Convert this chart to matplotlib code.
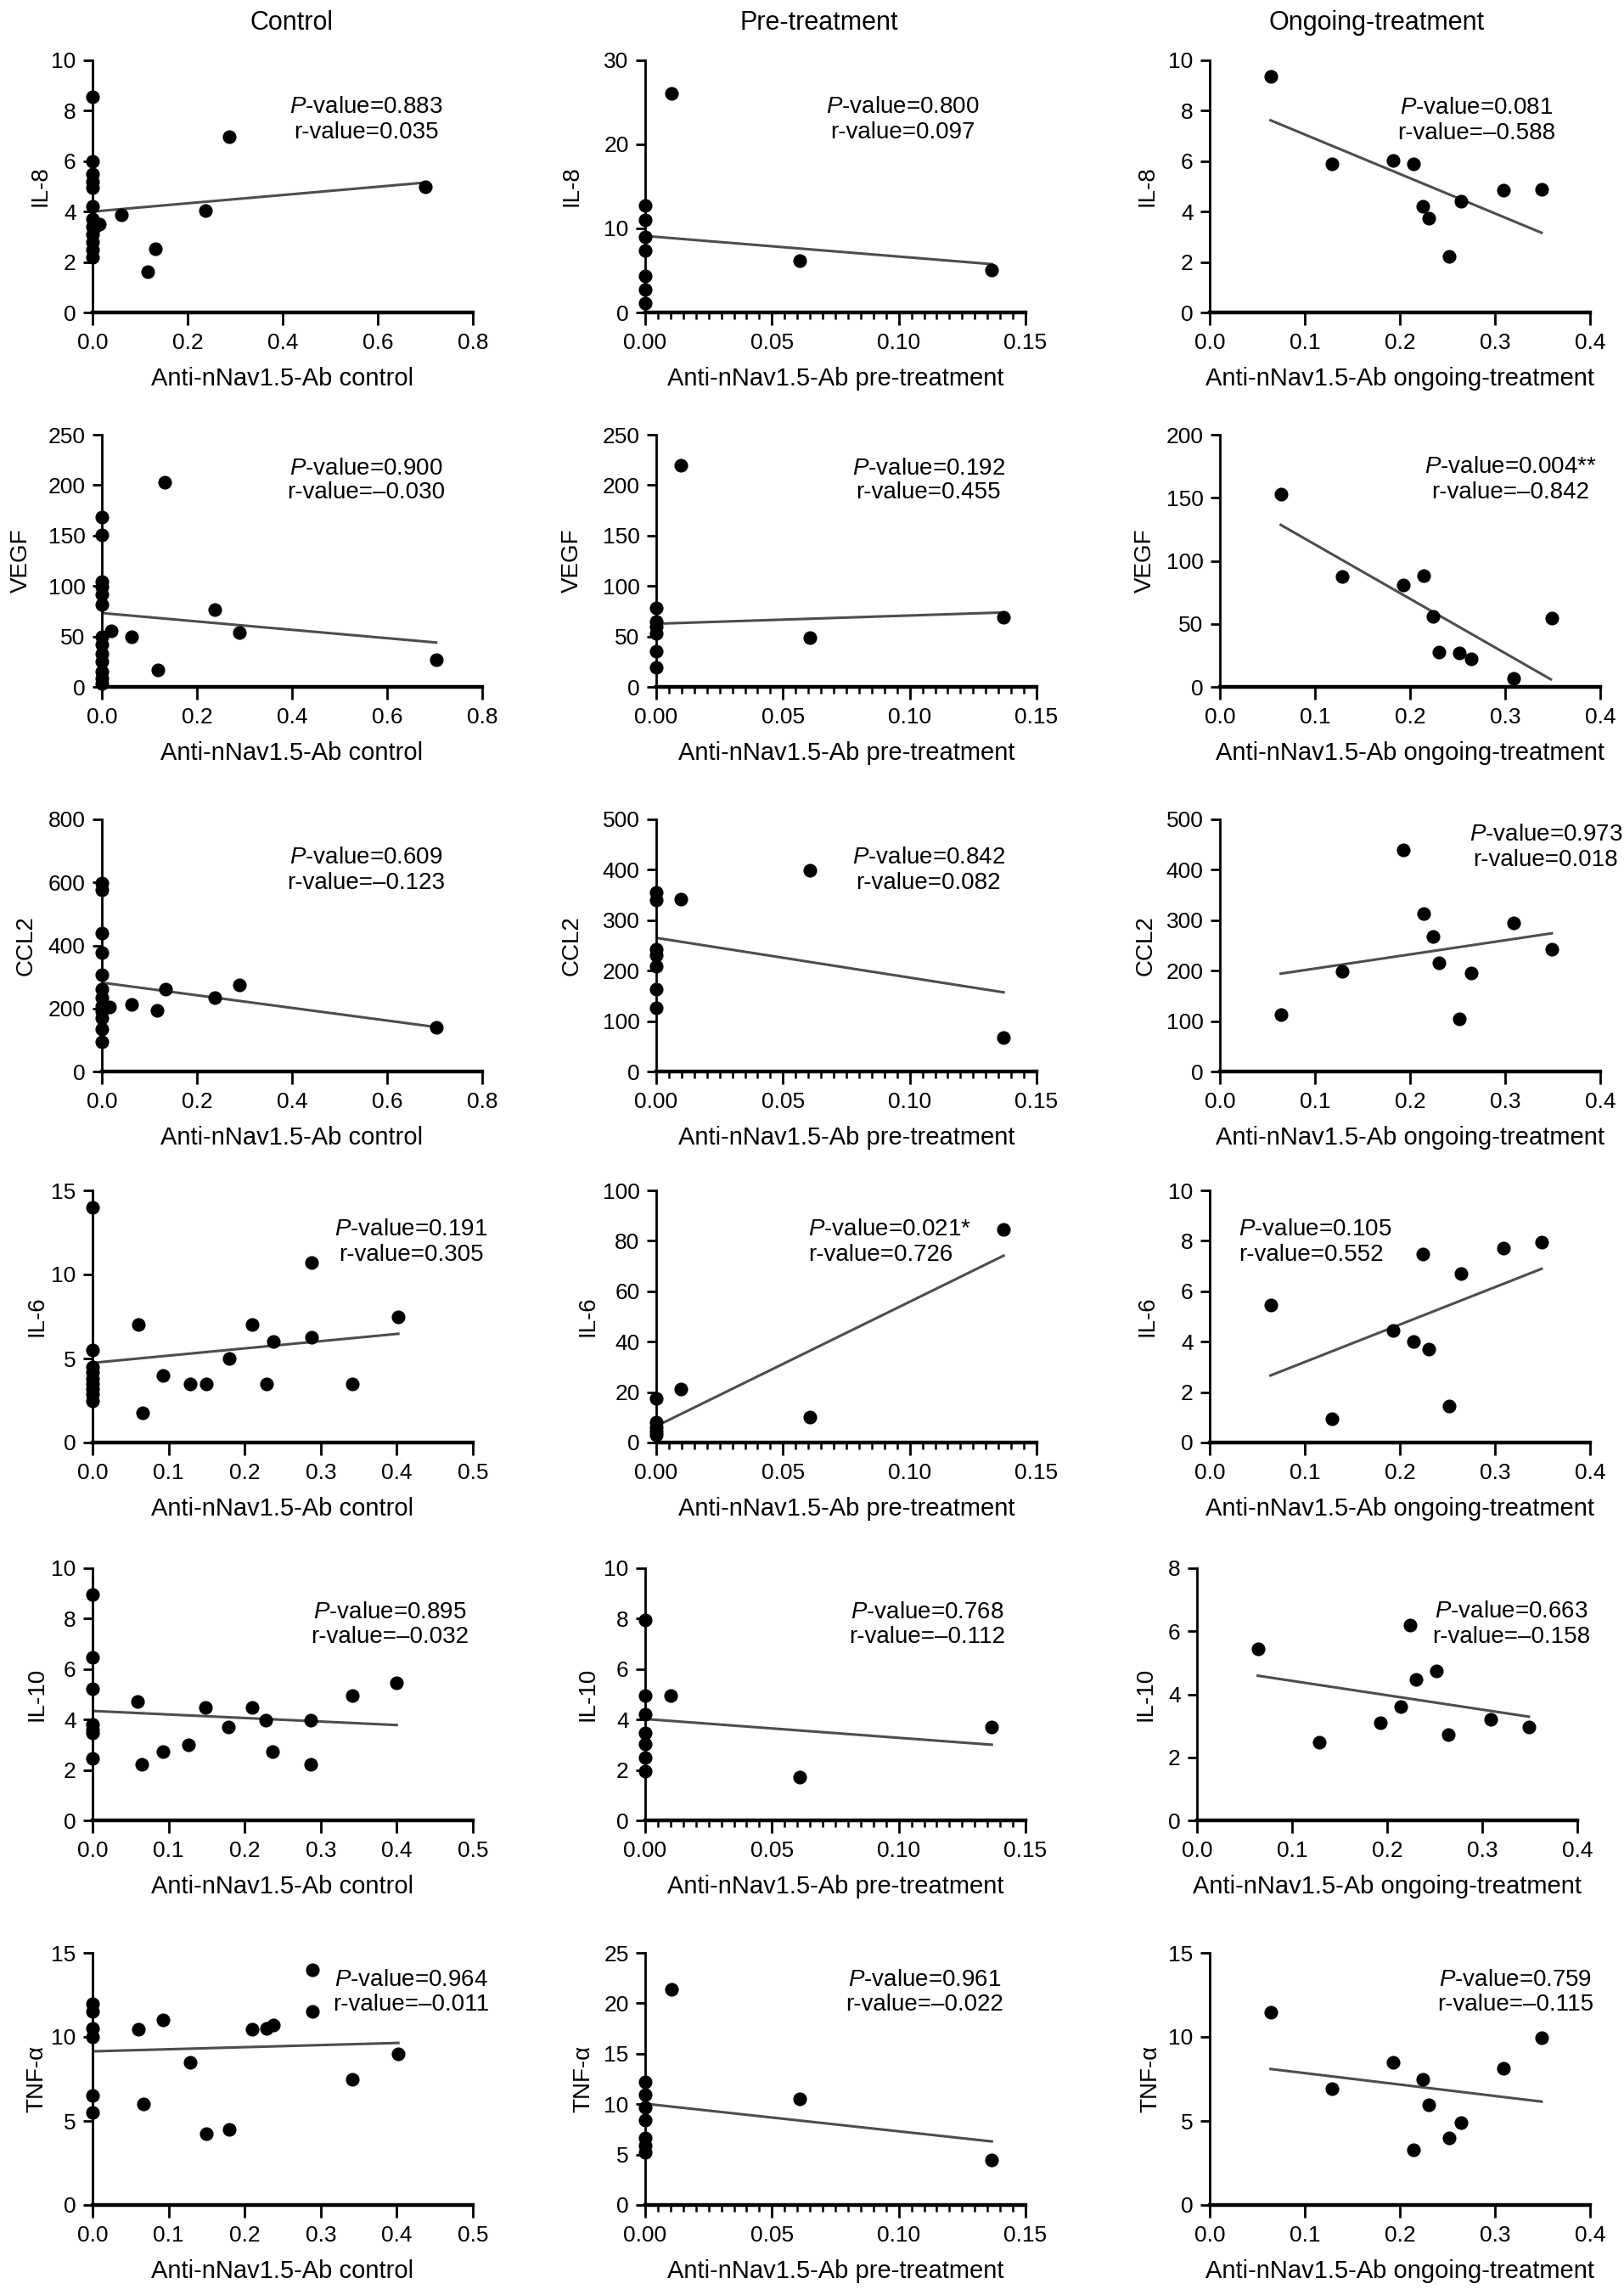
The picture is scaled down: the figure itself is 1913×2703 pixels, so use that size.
import matplotlib
matplotlib.use('Agg')

import matplotlib.pyplot as plt
from matplotlib.ticker import MultipleLocator, FormatStrFormatter

plt.rcParams['font.family'] = ['Liberation Sans', 'DejaVu Sans']
plt.rcParams['mathtext.fontset'] = 'custom'
plt.rcParams['mathtext.it'] = 'Liberation Sans:italic'
plt.rcParams['mathtext.rm'] = 'Liberation Sans'

# ---- data ----
ongoing_x = [0.064, 0.129, 0.193, 0.214, 0.224, 0.230, 0.252, 0.264, 0.309, 0.349]

# IL-8
il8_ctrl_x = [0, 0, 0, 0, 0, 0, 0, 0, 0, 0, 0, 0, 0.005, 0.015, 0.06, 0.116, 0.133, 0.238, 0.288, 0.70]
il8_ctrl_y = [8.55, 6.0, 5.5, 5.2, 4.95, 4.2, 3.7, 3.4, 3.1, 2.8, 2.5, 2.2, 3.4, 3.5, 3.86, 1.6, 2.54, 4.03, 6.98, 4.98]
il8_ctrl_fit = ([0, 0.70], [4.0, 5.15])
il8_pre_x = [0, 0, 0, 0, 0, 0, 0, 0.0103, 0.061, 0.1367]
il8_pre_y = [12.7, 11.0, 9.0, 7.4, 4.35, 2.75, 1.1, 26.1, 6.2, 5.1]
il8_pre_fit = ([0, 0.1367], [9.1, 5.75])
il8_ong_y = [9.36, 5.88, 6.04, 5.9, 4.2, 3.74, 2.22, 4.42, 4.84, 4.87]
il8_ong_fit = ([0.064, 0.349], [7.62, 3.16])

# VEGF
vegf_ctrl_x = [0, 0, 0, 0, 0, 0, 0, 0, 0, 0, 0, 0, 0, 0.019, 0.062, 0.118, 0.133, 0.238, 0.289, 0.703]
vegf_ctrl_y = [168, 151, 104, 99, 92, 82, 50, 42, 33, 25, 15, 8, 3, 55.7, 50, 16.7, 203, 76.6, 53.5, 27.3]
vegf_ctrl_fit = ([0, 0.703], [73.2, 44])
vegf_pre_x = [0, 0, 0, 0, 0, 0, 0.0098, 0.0607, 0.137]
vegf_pre_y = [78, 65, 60, 53, 35, 19, 220, 48.7, 69]
vegf_pre_fit = ([0, 0.137], [62.6, 73.8])
vegf_ong_y = [153, 87.6, 81, 88.4, 55.9, 27.9, 26.8, 22.3, 6.7, 54.7]
vegf_ong_fit = ([0.064, 0.348], [128.5, 6])

# CCL2
ccl2_ctrl_x = [0, 0, 0, 0, 0, 0, 0, 0, 0, 0, 0, 0, 0.016, 0.062, 0.116, 0.134, 0.238, 0.289, 0.703]
ccl2_ctrl_y = [599, 576, 440, 378, 306, 261, 235, 207, 190, 171, 135, 95, 205, 214, 194, 261, 234, 276, 141]
ccl2_ctrl_fit = ([0, 0.703], [282, 141])
ccl2_pre_x = [0, 0, 0, 0, 0, 0, 0, 0.0098, 0.0607, 0.137]
ccl2_pre_y = [355, 340, 242, 231, 208, 163, 127, 342, 399, 68]
ccl2_pre_fit = ([0, 0.137], [265, 157])
ccl2_ong_y = [112, 199, 440, 313, 268, 216, 104, 195, 295, 243]
ccl2_ong_fit = ([0.064, 0.349], [194, 274])

# IL-6
il6_ctrl_x = [0, 0, 0, 0, 0, 0, 0, 0, 0, 0.06, 0.066, 0.093, 0.128, 0.15, 0.18, 0.21, 0.229, 0.238, 0.288, 0.288, 0.342, 0.402]
il6_ctrl_y = [14.0, 5.5, 4.5, 4.2, 3.8, 3.5, 3.2, 2.9, 2.5, 7.0, 1.76, 4.0, 3.5, 3.5, 5.0, 7.0, 3.5, 6.0, 10.73, 6.25, 3.5, 7.46]
il6_ctrl_fit = ([0, 0.402], [4.74, 6.47])
il6_pre_x = [0, 0, 0, 0, 0, 0.0098, 0.0607, 0.137]
il6_pre_y = [17.5, 8.0, 6.0, 4.5, 3.0, 21.2, 10.1, 84.6]
il6_pre_fit = ([0, 0.137], [6.5, 74.1])
il6_ong_y = [5.45, 0.93, 4.46, 3.99, 7.47, 3.69, 1.46, 6.69, 7.72, 7.96]
il6_ong_fit = ([0.064, 0.349], [2.66, 6.89])

# IL-10
il10_ctrl_x = [0, 0, 0, 0, 0, 0, 0, 0.059, 0.065, 0.0925, 0.126, 0.148, 0.179, 0.21, 0.228, 0.237, 0.287, 0.287, 0.341, 0.40]
il10_ctrl_y = [8.96, 6.46, 5.23, 3.8, 3.6, 3.46, 2.46, 4.72, 2.21, 2.73, 2.98, 4.47, 3.71, 4.47, 3.97, 2.73, 3.96, 2.21, 4.96, 5.47]
il10_ctrl_fit = ([0, 0.40], [4.34, 3.78])
il10_pre_x = [0, 0, 0, 0, 0, 0, 0, 0.01, 0.0608, 0.1367]
il10_pre_y = [7.93, 4.95, 4.21, 3.46, 3.02, 2.48, 1.96, 4.95, 1.73, 3.71]
il10_pre_fit = ([0, 0.1367], [4.02, 3.0])
il10_ong_y = [5.44, 2.47, 3.1, 3.6, 6.2, 4.46, 4.73, 2.71, 3.2, 2.96]
il10_ong_fit = ([0.064, 0.349], [4.59, 3.29])

# TNF-alpha
tnf_ctrl_x = [0, 0, 0, 0, 0, 0, 0.06, 0.067, 0.093, 0.128, 0.15, 0.18, 0.21, 0.229, 0.238, 0.289, 0.289, 0.342, 0.402]
tnf_ctrl_y = [11.97, 11.5, 10.51, 10.0, 6.5, 5.49, 10.46, 5.99, 11.0, 8.47, 4.24, 4.49, 10.46, 10.51, 10.7, 14.0, 11.5, 7.5, 8.97]
tnf_ctrl_fit = ([0, 0.402], [9.14, 9.64])
tnf_pre_x = [0, 0, 0, 0, 0, 0, 0, 0.0103, 0.061, 0.1367]
tnf_pre_y = [12.2, 10.97, 9.65, 8.45, 6.64, 5.86, 5.19, 21.4, 10.5, 4.49]
tnf_pre_fit = ([0, 0.1367], [10.04, 6.3])
tnf_ong_y = [11.45, 6.92, 8.46, 3.27, 7.46, 5.98, 3.97, 4.91, 8.13, 9.94]
tnf_ong_fit = ([0.064, 0.349], [8.09, 6.15])

cytokines = ['IL-8', 'VEGF', 'CCL2', 'IL-6', 'IL-10', 'TNF-α']
groups = ['Control', 'Pre-treatment', 'Ongoing-treatment']
xlabels = ['Anti-nNav1.5-Ab control', 'Anti-nNav1.5-Ab pre-treatment',
           'Anti-nNav1.5-Ab ongoing-treatment']

p_control = ['0.883', '0.900', '0.609', '0.191', '0.895', '0.964']
r_control = ['0.035', '\u20130.030', '\u20130.123', '0.305', '\u20130.032', '\u20130.011']
p_pre = ['0.800', '0.192', '0.842', '0.021*', '0.768', '0.961']
r_pre = ['0.097', '0.455', '0.082', '0.726', '\u20130.112', '\u20130.022']
p_ongoing = ['0.081', '0.004**', '0.973', '0.105', '0.663', '0.759']
r_ongoing = ['\u20130.588', '\u20130.842', '0.018', '0.552', '\u20130.158', '\u20130.115']

# y axis max / step per row and column
y_max = [[10, 30, 10], [250, 250, 200], [800, 500, 500],
         [15, 100, 10], [10, 10, 8], [15, 25, 15]]
y_step = [[2, 10, 2], [50, 50, 50], [200, 100, 100],
          [5, 20, 2], [2, 2, 2], [5, 5, 5]]
ctrl_xmax = [0.8, 0.8, 0.8, 0.5, 0.5, 0.5]
ctrl_xstep = [0.2, 0.2, 0.2, 0.1, 0.1, 0.1]

scatter_data = [
    [(il8_ctrl_x, il8_ctrl_y, il8_ctrl_fit), (il8_pre_x, il8_pre_y, il8_pre_fit), (ongoing_x, il8_ong_y, il8_ong_fit)],
    [(vegf_ctrl_x, vegf_ctrl_y, vegf_ctrl_fit), (vegf_pre_x, vegf_pre_y, vegf_pre_fit), (ongoing_x, vegf_ong_y, vegf_ong_fit)],
    [(ccl2_ctrl_x, ccl2_ctrl_y, ccl2_ctrl_fit), (ccl2_pre_x, ccl2_pre_y, ccl2_pre_fit), (ongoing_x, ccl2_ong_y, ccl2_ong_fit)],
    [(il6_ctrl_x, il6_ctrl_y, il6_ctrl_fit), (il6_pre_x, il6_pre_y, il6_pre_fit), (ongoing_x, il6_ong_y, il6_ong_fit)],
    [(il10_ctrl_x, il10_ctrl_y, il10_ctrl_fit), (il10_pre_x, il10_pre_y, il10_pre_fit), (ongoing_x, il10_ong_y, il10_ong_fit)],
    [(tnf_ctrl_x, tnf_ctrl_y, tnf_ctrl_fit), (tnf_pre_x, tnf_pre_y, tnf_pre_fit), (ongoing_x, tnf_ong_y, tnf_ong_fit)],
]

# ---- layout (pixels of a 1913x2703 canvas) ----
W, H = 1913, 2703
AX_W, AX_H = 448, 297
row_top = [71, 512, 965, 1402, 1847, 2300]
col_left = [[109, 760, 1425], [120, 773, 1437], [120, 773, 1437],
            [109, 773, 1425], [109, 760, 1410], [109, 760, 1425]]
ylabel_x = [[-0.138, -0.192, -0.163], [-0.213, -0.221, -0.196], [-0.199, -0.221, -0.196],
            [-0.147, -0.179, -0.163], [-0.147, -0.15, -0.136], [-0.147, -0.163, -0.156]]
# stats text: x, y of P line, y of r line, alignment
stat_pos = [
    [(0.719, 0.815, 0.714, 'center'), (0.677, 0.815, 0.714, 'center'), (0.702, 0.811, 0.71, 'center')],
    [(0.694, 0.866, 0.772, 'center'), (0.716, 0.866, 0.772, 'center'), (0.764, 0.872, 0.77, 'center')],
    [(0.694, 0.848, 0.747, 'center'), (0.716, 0.848, 0.747, 'center'), (0.857, 0.94, 0.838, 'center')],
    [(0.837, 0.845, 0.743, 'center'), (0.40, 0.845, 0.743, 'left'), (0.076, 0.845, 0.743, 'left')],
    [(0.782, 0.825, 0.727, 'center'), (0.742, 0.825, 0.727, 'center'), (0.827, 0.828, 0.727, 'center')],
    [(0.837, 0.893, 0.795, 'center'), (0.735, 0.893, 0.795, 'center'), (0.803, 0.893, 0.795, 'center')],
]

fig = plt.figure(figsize=(W / 100, H / 100), dpi=100)

title_x = [343, 965, 1622]
for g, tx in zip(groups, title_x):
    fig.text(tx / W, 1 - 27 / H, g, ha='center', va='center', fontsize=22)

p_all = [p_control, p_pre, p_ongoing]
r_all = [r_control, r_pre, r_ongoing]

for i in range(6):
    for j in range(3):
        left = col_left[i][j] / W
        bottom = 1 - (row_top[i] + AX_H) / H
        ax = fig.add_axes([left, bottom, AX_W / W, AX_H / H])
        x, y, fit = scatter_data[i][j]

        ax.plot(fit[0], fit[1], color='#4d4d4d', lw=2.2, zorder=2)
        ax.scatter(x, y, s=135, color='black', zorder=4, clip_on=False, linewidths=0)

        if j == 0:
            xmax, xstep, fmt = ctrl_xmax[i], ctrl_xstep[i], '%.1f'
        elif j == 1:
            xmax, xstep, fmt = 0.15, 0.05, '%.2f'
        else:
            xmax, xstep, fmt = 0.4, 0.1, '%.1f'
        ax.set_xlim(0, xmax)
        ax.set_ylim(0, y_max[i][j])
        ax.xaxis.set_major_locator(MultipleLocator(xstep))
        ax.xaxis.set_major_formatter(FormatStrFormatter(fmt))
        ax.yaxis.set_major_locator(MultipleLocator(y_step[i][j]))
        if j == 1:
            ax.xaxis.set_minor_locator(MultipleLocator(0.005))
            ax.tick_params(axis='x', which='minor', length=6, width=1.8, direction='out')

        for s in ['top', 'right']:
            ax.spines[s].set_visible(False)
        ax.spines['left'].set_linewidth(2.0)
        ax.spines['bottom'].set_linewidth(3.2)
        ax.tick_params(axis='both', which='major', labelsize=19, width=2.0,
                       length=8, direction='out', pad=6)
        ax.tick_params(axis='x', which='major', length=11)

        ax.set_xlabel(xlabels[j], fontsize=21, labelpad=12)
        ax.set_ylabel(cytokines[i], fontsize=20, va='center')
        ax.yaxis.set_label_coords(ylabel_x[i][j], 0.5)

        sx, syp, syr, ha = stat_pos[i][j]
        ax.text(sx, syp, r'$\it{P}$' + '-value=' + p_all[j][i], transform=ax.transAxes,
                ha=ha, va='center', fontsize=20)
        ax.text(sx, syr, 'r-value=' + r_all[j][i], transform=ax.transAxes,
                ha=ha, va='center', fontsize=20)

fig.savefig('out.png', dpi=100, facecolor='white')
